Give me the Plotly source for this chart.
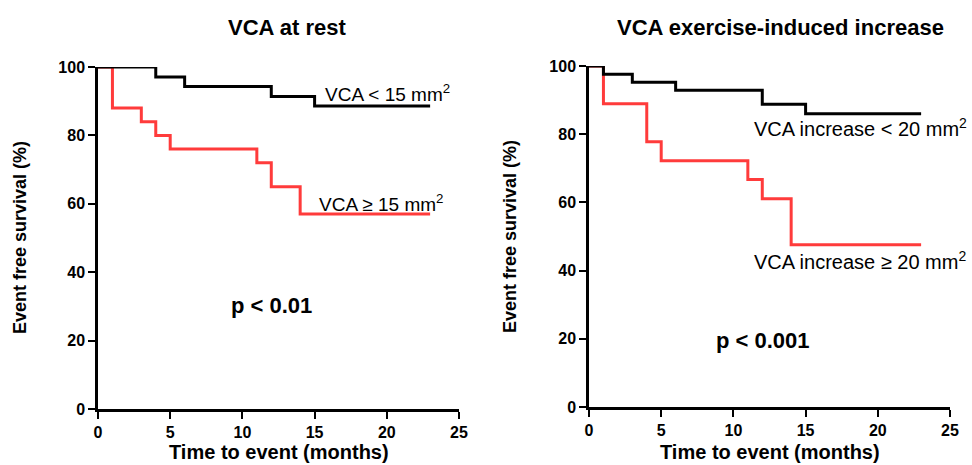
import plotly.graph_objects as go

# ---- data ----
rest_low_t = [0, 4, 6, 12, 15, 23]
rest_low_s = [100, 97.1, 94.3, 91.4, 88.6, 88.6]
rest_high_t = [0, 1, 3, 4, 5, 11, 12, 14, 23]
rest_high_s = [100, 88, 84, 80, 76, 72, 65, 57, 57]

ex_low_t = [0, 1, 3, 6, 12, 15, 23]
ex_low_s = [100, 97.6, 95.2, 92.9, 88.8, 86.0, 86.0]
ex_high_t = [0, 1, 4, 5, 11, 12, 14, 23]
ex_high_s = [100, 88.9, 77.8, 72.2, 66.7, 61.1, 47.6, 47.6]

x_ticks = [0, 5, 10, 15, 20, 25]
y_ticks = [0, 20, 40, 60, 80, 100]

titles = ["VCA at rest", "VCA exercise-induced increase"]
x_title = "Time to event (months)"
y_title = "Event free survival (%)"

FONT = "Liberation Sans, Arial, sans-serif"
RED = "#ff3b3b"
W, H = 972, 465

fig = go.Figure()

def step(x, y, color, xa, ya):
    fig.add_trace(go.Scatter(x=x, y=y, mode="lines", line=dict(color=color, width=3, shape="hv"),
                             xaxis=xa, yaxis=ya, cliponaxis=False, showlegend=False, hoverinfo="skip"))

step(rest_high_t, rest_high_s, RED, "x", "y")
step(rest_low_t, rest_low_s, "black", "x", "y")
step(ex_high_t, ex_high_s, RED, "x2", "y2")
step(ex_low_t, ex_low_s, "black", "x2", "y2")

def px(xp):
    return xp / W

def py(yp):
    return 1 - yp / H

axis_common = dict(showgrid=False, zeroline=False, showline=True, linecolor="black", linewidth=2.5,
                   ticks="outside", ticklen=7, tickwidth=2, tickcolor="black", automargin=False,
                   tickfont=dict(family=FONT, size=16, color="black", weight="bold"))

fig.update_layout(
    template="none",
    width=W, height=H, margin=dict(l=0, r=0, t=0, b=0, autoexpand=False),
    paper_bgcolor="white", plot_bgcolor="white",
    xaxis=dict(domain=[px(98), px(459)], range=[0, 25], tickvals=x_ticks, anchor="y", **axis_common),
    yaxis=dict(domain=[py(409), py(67)], range=[0, 100], tickvals=y_ticks, anchor="x", **axis_common),
    xaxis2=dict(domain=[px(589), px(950)], range=[0, 25], tickvals=x_ticks, anchor="y2", **axis_common),
    yaxis2=dict(domain=[py(407), py(66)], range=[0, 100], tickvals=y_ticks, anchor="x2", **axis_common),
)

ann = []
C = dict(xanchor="center", yanchor="middle", showarrow=False)
# titles
for txt, cx in zip(titles, [287, 780]):
    ann.append(dict(text=f"<b>{txt}</b>", x=px(cx), y=py(27), xref="paper", yref="paper",
                    font=dict(family=FONT, size=22, color="black"), **C))
# axis titles
for cx in [(98 + 459) / 2, (589 + 950) / 2]:
    ann.append(dict(text=f"<b>{x_title}</b>", x=px(cx), y=py(452), xref="paper", yref="paper",
                    font=dict(family=FONT, size=20, color="black"), **C))
for cx, cy in [(20, 238), (510, 237)]:
    ann.append(dict(text=f"<b>{y_title}</b>", x=px(cx), y=py(cy), xref="paper", yref="paper",
                    textangle=-90, font=dict(family=FONT, size=18, color="black"), **C))
# curve labels
lab_l = dict(showarrow=False, xanchor="left", yanchor="middle", font=dict(family=FONT, size=19, color="black"))
lab_r = dict(showarrow=False, xanchor="left", yanchor="middle", font=dict(family=FONT, size=20, color="black"))
ann.append(dict(text="VCA &lt; 15 mm<sup>2</sup>", x=15.6, y=92.4, xref="x", yref="y", **lab_l))
ann.append(dict(text="VCA ≥ 15 mm<sup>2</sup>", x=15.2, y=60.2, xref="x", yref="y", **lab_l))
ann.append(dict(text="VCA increase &lt; 20 mm<sup>2</sup>", x=11.3, y=82.0, xref="x2", yref="y2", **lab_r))
ann.append(dict(text="VCA increase ≥ 20 mm<sup>2</sup>", x=11.27, y=43.0, xref="x2", yref="y2", **lab_r))
# p-values
pv = dict(font=dict(family=FONT, size=22, color="black"), **C)
ann.append(dict(text="<b>p &lt; 0.01</b>", x=12.0, y=30.4, xref="x", yref="y", **pv))
ann.append(dict(text="<b>p &lt; 0.001</b>", x=12.05, y=19.6, xref="x2", yref="y2", **pv))

fig.update_layout(annotations=ann)
fig.write_html("out.html", config={"displayModeBar": False},
               post_script="document.body.style.margin='0';document.body.style.overflow='hidden';")
